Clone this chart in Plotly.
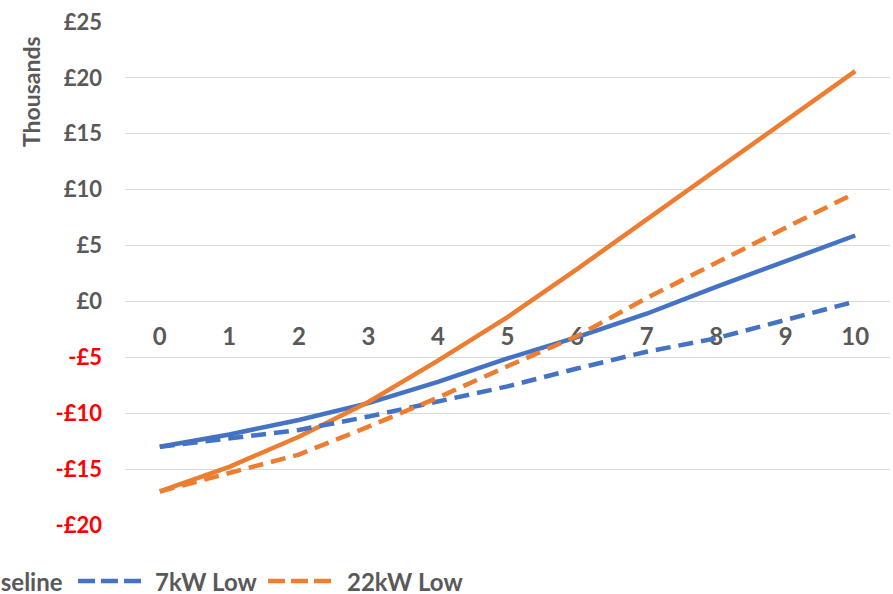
import plotly.graph_objects as go

# ---------------- data (thousands of £) ----------------
years = list(range(11))
series_names = ["7kW Baseline", "22kW Baseline", "7kW Low", "22kW Low"]
baseline_7kw = [-13.0, -11.9, -10.6, -9.1, -7.2, -5.1, -3.2, -1.1, 1.3, 3.6, 5.9]
baseline_22kw = [-17.0, -14.8, -12.1, -9.0, -5.3, -1.4, 2.9, 7.3, 11.8, 16.2, 20.6]
low_7kw = [-13.0, -12.3, -11.5, -10.3, -9.0, -7.6, -6.0, -4.5, -3.3, -1.7, 0.0]
low_22kw = [-17.0, -15.4, -13.7, -11.2, -8.6, -5.8, -3.1, 0.3, 3.5, 6.6, 9.7]
y_tick_values = [-20, -15, -10, -5, 0, 5, 10, 15, 20, 25]
y_tick_labels = ["-£20", "-£15", "-£10", "-£5", "£0", "£5", "£10", "£15", "£20", "£25"]
x_tick_labels = [str(y) for y in years]
y_axis_title = "Thousands"

# ---------------- styling ----------------
BLUE = "#4472C4"
ORANGE = "#ED7D31"
GREY = "#595959"
RED = "#FF0000"
FONT = "Lato"
W, H = 893, 594
ML, MR, MT, MB = 125, 3, 22, 69
PW, PH = W - ML - MR, H - MT - MB

def px_x(p):
    return (p - ML) / PW

def px_y(p):
    return (H - MB - p) / PH

series_values = [baseline_7kw, baseline_22kw, low_7kw, low_22kw]
series_colors = [BLUE, ORANGE, BLUE, ORANGE]
series_dash = ["solid", "solid", "15px,8px", "15px,8px"]

fig = go.Figure()
for name, vals, col, dash in zip(series_names, series_values, series_colors, series_dash):
    fig.add_trace(go.Scatter(
        x=years, y=vals, name=name, mode="lines",
        line=dict(color=col, width=4.5, dash=dash),
        showlegend=False,
    ))

ticktext = [
    (f"<span style='color:{RED}'>{t}</span>" if v < 0 else t)
    for v, t in zip(y_tick_values, y_tick_labels)
]

ymin, ymax = min(y_tick_values), max(y_tick_values)

fig.update_layout(
    width=W, height=H,
    margin=dict(l=ML, r=MR, t=MT, b=MB, autoexpand=False),
    paper_bgcolor="white", plot_bgcolor="white",
    font=dict(family=FONT, color=GREY),
    xaxis=dict(
        range=[-0.5, 10.5], tickvals=years, ticktext=x_tick_labels,
        anchor="free", position=(0 - ymin) / (ymax - ymin),
        showgrid=False, zeroline=False, showline=False, ticks="",
        ticklabelstandoff=19, layer="below traces",
        tickfont=dict(family=FONT, size=24, color=GREY, weight="bold"),
    ),
    yaxis=dict(
        range=[ymin, ymax], tickvals=y_tick_values, ticktext=ticktext,
        showgrid=True, gridcolor="#D9D9D9", gridwidth=1.3,
        zeroline=False, showline=False, ticks="",
        ticklabelstandoff=22, layer="below traces",
        tickfont=dict(family=FONT, size=22, color=GREY, weight="bold"),
    ),
)

# y-axis display-unit label
fig.add_annotation(
    xref="paper", yref="paper", x=px_x(31), y=px_y(92),
    text=y_axis_title, textangle=-90, showarrow=False,
    xanchor="center", yanchor="middle",
    font=dict(family=FONT, size=23, color=GREY, weight="bold"),
)

# legend (bottom, partially cut off at left as in the reference)
leg_y = px_y(581)
sample_starts = [-350, -175, 78, 268]
text_pos = [(-275, "left"), (65, "right"), (153, "left"), (345, "left")]
legend_dash = ["solid", "solid", "17px,6px", "17px,6px"]
for name, col, dash, s0, (tx, anchor) in zip(series_names, series_colors, legend_dash,
                                              sample_starts, text_pos):
    fig.add_shape(type="line", xref="paper", yref="paper",
                  x0=px_x(s0), x1=px_x(s0 + 64), y0=leg_y, y1=leg_y,
                  line=dict(color=col, width=4.5, dash=dash))
    fig.add_annotation(xref="paper", yref="paper", x=px_x(tx), y=leg_y,
                       text=name, showarrow=False, xanchor=anchor, yanchor="middle",
                       font=dict(family=FONT, size=24, color=GREY, weight="bold"))

fig.write_html("out.html")
